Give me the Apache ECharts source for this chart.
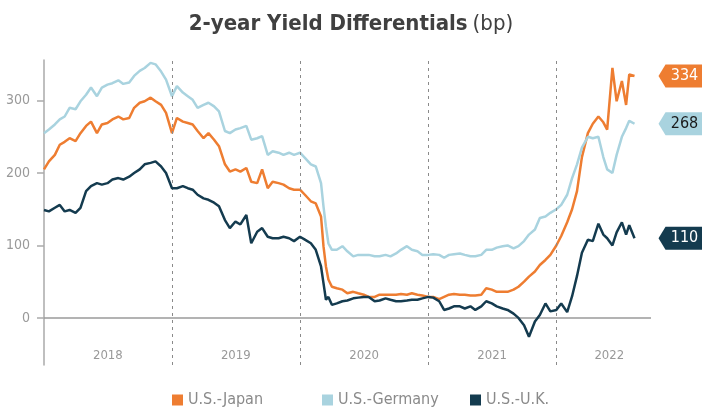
<!DOCTYPE html>
<html>
<head>
<meta charset="utf-8">
<script src="https://cdn.jsdelivr.net/npm/echarts@6/dist/echarts.min.js"></script>
<style>
  html, body { margin: 0; padding: 0; background: #fff; }
  #chart { width: 702px; height: 409px; }
</style>
</head>
<body>
<div id="chart"></div>
<script>
// semi-monthly readings, a few extra points around the March 2020 drop
var dates = [
  '2018-01-01','2018-01-15','2018-02-01','2018-02-15','2018-03-01','2018-03-15','2018-04-01','2018-04-15','2018-05-01','2018-05-15','2018-06-01','2018-06-15',
  '2018-07-01','2018-07-15','2018-08-01','2018-08-15','2018-09-01','2018-09-15','2018-10-01','2018-10-15','2018-11-01','2018-11-15','2018-12-01','2018-12-15',
  '2019-01-01','2019-01-15','2019-02-01','2019-02-15','2019-03-01','2019-03-15','2019-04-01','2019-04-15','2019-05-01','2019-05-15','2019-06-01','2019-06-15',
  '2019-07-01','2019-07-15','2019-08-01','2019-08-15','2019-09-01','2019-09-15','2019-10-01','2019-10-15','2019-11-01','2019-11-15','2019-12-01','2019-12-15',
  '2020-01-01','2020-01-15','2020-02-01','2020-02-15','2020-03-01','2020-03-08','2020-03-15','2020-03-22','2020-04-01','2020-04-15',
  '2020-05-01','2020-05-15','2020-06-01','2020-06-15','2020-07-01','2020-07-15','2020-08-01','2020-08-15','2020-09-01','2020-09-15','2020-10-01','2020-10-15','2020-11-01','2020-11-15','2020-12-01','2020-12-15',
  '2021-01-01','2021-01-15','2021-02-01','2021-02-15','2021-03-01','2021-03-15','2021-04-01','2021-04-15','2021-05-01','2021-05-15','2021-06-01','2021-06-15',
  '2021-07-01','2021-07-15','2021-08-01','2021-08-15','2021-09-01','2021-09-15','2021-10-01','2021-10-15','2021-11-01','2021-11-15','2021-12-01','2021-12-15',
  '2022-01-01','2022-01-15','2022-02-01','2022-02-15','2022-03-01','2022-03-15','2022-04-01','2022-04-15','2022-05-01','2022-05-15','2022-05-26',
  '2022-06-10','2022-06-22','2022-07-07','2022-07-19','2022-07-28','2022-08-12'
];

var usJapan = [
  205,216,225,239,243,248,244,255,265,271,255,267,269,274,278,274,276,290,297,299,304,299,294,283,
  255,276,271,269,267,258,248,255,246,237,212,202,205,202,207,188,186,205,179,188,186,184,179,177,
  177,170,161,158,140,99,71,53,43,41,
  39,34,36,34,32,29,29,32,32,32,32,33,32,34,32,31,
  29,29,26,29,32,33,32,32,31,31,32,41,39,36,36,36,39,43,50,57,64,73,80,87,
  100,113,132,150,175,222,255,268,278,270,260,345,299,327,294,336,334
];

var usGermany = [
  255,260,267,274,278,290,288,299,308,318,306,318,322,324,328,323,325,334,341,345,352,350,340,329,
  306,320,311,306,301,290,294,297,292,285,258,255,260,262,265,246,248,251,225,230,228,225,228,225,
  228,221,212,209,186,154,126,103,94,94,
  99,92,85,87,87,87,85,85,87,85,89,94,99,94,92,87,
  87,88,87,83,87,88,89,87,85,85,87,94,94,97,99,100,96,99,106,115,122,138,140,145,
  150,156,170,193,212,235,250,248,250,222,205,200,225,250,262,272,268
];

var usUK = [
  149,147,152,156,147,149,145,152,175,182,186,184,186,191,193,191,195,200,205,212,214,216,209,200,
  179,179,182,179,177,170,165,163,159,154,135,124,133,129,142,103,119,124,112,110,110,112,110,106,
  112,108,103,94,71,48,25,29,18,20,
  23,24,27,28,29,29,23,24,27,25,23,23,24,25,25,27,
  29,28,23,11,13,16,16,13,16,11,16,23,20,16,13,11,6,0,-10,-26,-5,4,20,9,
  11,20,8,30,58,90,108,106,130,115,110,100,118,132,115,128,110
];

var seriesNames = ['U.S.-Japan', 'U.S.-Germany', 'U.S.-U.K.'];
var yearStarts = ['2019-01-01', '2020-01-01', '2021-01-01', '2022-01-01'];
var yearLabelDates = ['2018-07-02', '2019-07-02', '2020-07-02', '2021-07-02', '2022-06-01'];
var yTicks = [0, 100, 200, 300];

var FONT = "'Liberation Sans Narrow', 'DejaVu Sans Condensed', Roboto, sans-serif";
var colors = ['#ee7d31', '#a9d3df', '#143b4f'];
var tagText = ['#ffffff', '#1a1a1a', '#ffffff'];
var legendLeft = [172, 322, 470];

function t(s) {
  var p = s.split('-');
  return Date.UTC(+p[0], +p[1] - 1, +p[2]);
}

function pairs(values) {
  return values.map(function (v, i) { return [t(dates[i]), v]; });
}

var allValues = [usJapan, usGermany, usUK];
var lastDate = t(dates[dates.length - 1]);

var series = allValues.map(function (vals, i) {
  var last = vals[vals.length - 1];
  var s = {
    name: seriesNames[i],
    type: 'line',
    data: pairs(vals),
    symbol: 'none',
    color: colors[i],
    lineStyle: { width: 2.5, color: colors[i] },
    z: 3 + i,
    markPoint: {
      silent: true,
      symbol: 'path://M0,11 L7,0 L46,0 L46,22 L7,22 Z',
      symbolSize: [46, 23],
      symbolKeepAspect: false,
      symbolOffset: [47, 0],
      itemStyle: { color: colors[i] },
      label: {
        show: true,
        formatter: '{c}',
        color: tagText[i],
        fontFamily: FONT,
        fontSize: 16,
        offset: [3, 0]
      },
      data: [{ coord: [lastDate, last], value: last }]
    }
  };
  if (i === 0) {
    var lines = yearStarts.map(function (d) {
      return { xAxis: t(d) };
    });
    lines.push({
      yAxis: 0,
      lineStyle: { type: 'solid', color: '#9a9a9a', width: 1.5 }
    });
    s.markLine = {
      silent: true,
      symbol: ['none', 'none'],
      label: { show: false },
      lineStyle: { type: [3, 4], color: '#8a8a8a', width: 1 },
      data: lines
    };
  }
  return s;
});

// one legend per item so each sits where the reference puts it
var legends = seriesNames.map(function (name, i) {
  return {
    data: [name],
    left: legendLeft[i],
    top: 392,
    icon: 'rect',
    itemWidth: 11,
    itemHeight: 11,
    padding: 0,
    textStyle: { fontFamily: FONT, fontSize: 16, color: '#8a8a8a' }
  };
});

var myChart = echarts.init(document.getElementById('chart'));

var option = {
  animation: false,
  title: {
    text: '{b|2-year Yield Differentials} {n|(bp)}',
    left: 'center',
    top: 8,
    textStyle: {
      rich: {
        b: { fontFamily: FONT, fontSize: 22, fontWeight: 'bold', color: '#404040' },
        n: { fontFamily: FONT, fontSize: 22, fontWeight: 'normal', color: '#404040' }
      }
    }
  },
  legend: legends,
  grid: { left: 44, right: 51, top: 60, bottom: 44 },
  xAxis: {
    type: 'value',
    min: t('2018-01-01'),
    max: t('2022-09-28'),
    axisLine: { show: false },
    axisTick: { show: false },
    splitLine: { show: false },
    axisLabel: {
      inside: true,
      margin: 3,
      customValues: yearLabelDates.map(t),
      formatter: function (v) { return String(new Date(v).getUTCFullYear()); },
      fontFamily: FONT,
      fontSize: 13,
      color: '#999'
    }
  },
  yAxis: {
    type: 'value',
    min: -65,
    max: 356,
    axisLine: { show: true, lineStyle: { color: '#aaa', width: 1.5 } },
    axisTick: { show: true, length: 7, customValues: yTicks, lineStyle: { color: '#aaa', width: 1.5 } },
    splitLine: { show: false },
    axisLabel: {
      customValues: yTicks,
      margin: 14,
      fontFamily: FONT,
      fontSize: 14,
      color: '#999'
    }
  },
  series: series
};

myChart.setOption(option);
window.addEventListener('resize', function () {
  myChart.resize();
});
</script>
</body>
</html>
